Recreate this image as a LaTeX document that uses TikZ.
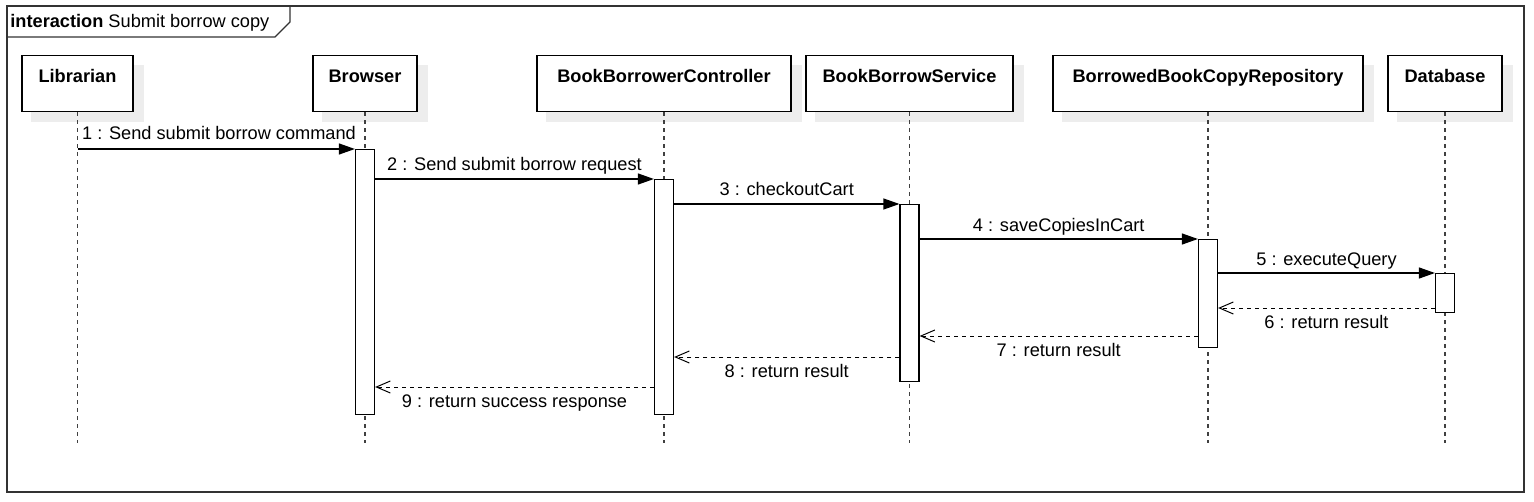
\documentclass[tikz,border=0pt]{standalone}
\usepackage{fontspec}
\setmainfont{Liberation Sans}
\usepackage{tikz}
\usetikzlibrary{arrows.meta,positioning,backgrounds}

\begin{document}
\begin{tikzpicture}[x=0.5pt, y=-0.5pt,
        every node/.style={font=\fontsize{9.1pt}{11pt}\selectfont},
        head/.style={draw, rectangle, line width=0.6pt, fill=white, anchor=north,
            inner sep=0pt, text height=13.25pt, text depth=14.75pt, font=\fontsize{9.1pt}{11pt}\selectfont\bfseries},
        lifeline/.style={line width=0.6pt, black!75, dash pattern=on 2pt off 2pt},
        bar/.style={draw, rectangle, line width=0.6pt, fill=white, anchor=north, inner sep=0pt, minimum width=9.5pt},
        call/.style={line width=0.6pt, -{Triangle[length=8pt, width=5.5pt]}},
        reply/.style={line width=0.5pt, dash pattern=on 2pt off 2pt, -{Straight Barb[length=7pt, width=6pt]}}]
        \useasboundingbox (0,0) rectangle (1534,502);

        % Frame
        \draw[line width=0.75pt, black!80] (7,6) rectangle (1524,492);
        \draw[line width=0.6pt, black!80] (7,37) -- (275,37) -- (290,22) -- (290,6);
        \node[anchor=base west, inner sep=0pt] (title) at (10,28) {\textbf{interaction} Submit borrow copy};

        % Lifeline heads
        \node[head, minimum width=55.5pt] (lib) at (77.5,55) {Librarian};
        \node[head, minimum width=52pt] (brw) at (365,55) {Browser};
        \node[head, minimum width=127pt] (ctl) at (664,55) {BookBorrowerController};
        \node[head, minimum width=103.5pt] (svc) at (909.5,55) {BookBorrowService};
        \node[head, minimum width=155pt] (repo) at (1208,55) {BorrowedBookCopyRepository};
        \node[head, minimum width=57pt] (db) at (1445,55) {Database};

        % Shadows
        \begin{scope}[on background layer]
            \foreach \n in {lib,brw,ctl,svc,repo,db}
                \fill[black!7] ([shift={(10,10)}]\n.north west) rectangle ([shift={(10,10)}]\n.south east);
        \end{scope}

        % Lifelines
        \foreach \n in {lib,brw,ctl,svc,repo,db}
            \draw[lifeline] (\n.south) -- (\n.south |- 0,443);

        % Activations
        \node[bar, minimum height=132.5pt] (brwAct) at (365,149) {};
        \node[bar, minimum height=117.5pt] (ctlAct) at (664,179) {};
        \node[bar, minimum height=88.5pt] (svcAct) at (909.5,204) {};
        \node[bar, minimum height=54pt] (repoAct) at (1208,239) {};
        \node[bar, minimum height=19.5pt] (dbAct) at (1445,273) {};

        % Calls
        \draw[call] (lib.south |- brwAct.north) -- (brwAct.north west)
            node[at start, anchor=base west, inner xsep=0pt, xshift=2pt, yshift=4.5pt] {1 : Send submit borrow command};
        \draw[call] (brwAct.east |- ctlAct.north) -- (ctlAct.north west)
            node[midway, anchor=base, yshift=4pt] {2 : Send submit borrow request};
        \draw[call] (ctlAct.east |- svcAct.north) -- (svcAct.north west)
            node[midway, anchor=base, yshift=4pt] {3 : checkoutCart};
        \draw[call] (svcAct.east |- repoAct.north) -- (repoAct.north west)
            node[midway, anchor=base, yshift=4pt] {4 : saveCopiesInCart};
        \draw[call] (repoAct.east |- dbAct.north) -- (dbAct.north west)
            node[midway, anchor=base, yshift=4pt] {5 : executeQuery};

        % Replies
        \coordinate (r6) at (0,308);
        \coordinate (r7) at (0,336);
        \coordinate (r8) at (0,357);
        \coordinate (r9) at (0,387);
        \draw[reply] (dbAct.west |- r6) -- (repoAct.east |- r6)
            node[midway, anchor=base, yshift=-10pt] {6 : return result};
        \draw[reply] (repoAct.west |- r7) -- (svcAct.east |- r7)
            node[midway, anchor=base, yshift=-10pt] {7 : return result};
        \draw[reply] (svcAct.west |- r8) -- (ctlAct.east |- r8)
            node[midway, anchor=base, yshift=-10pt] {8 : return result};
        \draw[reply] (ctlAct.west |- r9) -- (brwAct.east |- r9)
            node[midway, anchor=base, yshift=-10pt] {9 : return success response};
    \end{tikzpicture}
\end{document}
